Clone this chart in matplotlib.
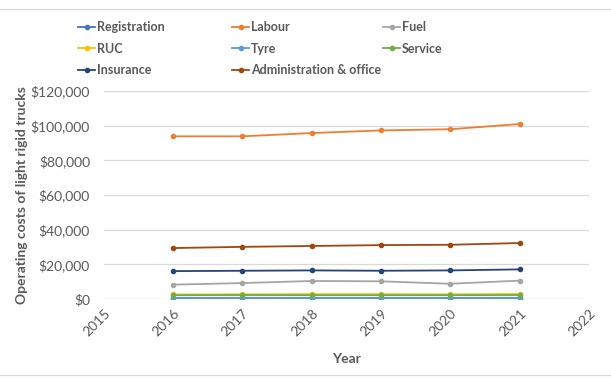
import matplotlib.pyplot as plt
from matplotlib.lines import Line2D
from matplotlib.ticker import FuncFormatter

#%% --- Data ---
years = [2016, 2017, 2018, 2019, 2020, 2021]
series_names = ["Registration", "Labour", "Fuel", "RUC", "Tyre", "Service",
                "Insurance", "Administration & office"]
registration = [300, 300, 300, 300, 300, 300]
labour = [93900, 93900, 95800, 97300, 98000, 101000]
fuel = [8300, 9200, 10400, 10200, 8800, 10600]
ruc = [2600, 2700, 2800, 2800, 2700, 2900]
tyre = [500, 500, 500, 500, 500, 500]
service = [2200, 2300, 2200, 2200, 2200, 2300]
insurance = [16100, 16300, 16500, 16300, 16500, 17100]
admin = [29400, 30100, 30600, 31100, 31300, 32300]
all_values = [registration, labour, fuel, ruc, tyre, service, insurance, admin]

colors = ["#4472C4", "#ED7D31", "#A5A5A5", "#FFC000",
          "#5B9BD5", "#70AD47", "#264478", "#9E480E"]
text_grey = "#595959"

plt.rcParams["font.family"] = ["Lato", "DejaVu Sans"]

#%% --- Figure ---
fig = plt.figure(figsize=(6.11, 3.78), dpi=100)
ax = fig.add_axes([0.170, 0.209, 0.794, 0.550])

handles = []
for name, vals, c in zip(series_names, all_values, colors):
    h, = ax.plot(years, vals, color=c, lw=1.3, marker="o", markersize=3.0,
                 label=name)
    handles.append(h)

# --- axes ---
ax.set_xlim(2015, 2022)
ax.set_ylim(0, 120000)
ax.set_xticks(range(2015, 2023))
ax.set_yticks(range(0, 120001, 20000))
ax.yaxis.set_major_formatter(FuncFormatter(lambda v, p: "${:,.0f}".format(v)))
ax.grid(axis="y", color="#D9D9D9", lw=0.9)
ax.set_axisbelow(True)
for s in ax.spines.values():
    s.set_visible(False)
ax.tick_params(axis="both", length=0, colors=text_grey, labelsize=10)
ax.tick_params(axis="y", pad=10)
ax.tick_params(axis="x", pad=6)
for lbl in ax.get_xticklabels():
    lbl.set_rotation(45)
    lbl.set_ha("right")
    lbl.set_rotation_mode("anchor")

ax.set_xlabel("Year", fontsize=10, fontweight="bold", color=text_grey, labelpad=10)
ax.set_ylabel("Operating costs of light rigid trucks", fontsize=10,
              fontweight="bold", color=text_grey, labelpad=2)

# --- legend: three fixed-position columns ---
col_x = [0.128, 0.380, 0.627]
for k, x0 in enumerate(col_x):
    idx = [k, k + 3, k + 6] if k < 2 else [k, k + 3]
    leg = fig.legend([handles[i] for i in idx], [series_names[i] for i in idx],
                     loc="upper left", bbox_to_anchor=(x0, 0.944),
                     frameon=False, fontsize=9, handlelength=1.36,
                     handletextpad=0.15, labelspacing=0.75,
                     borderpad=0, borderaxespad=0)
    for t in leg.get_texts():
        t.set_color(text_grey)
        t.set_fontweight("bold")

# --- chart area border lines ---
fig.add_artist(Line2D([0, 1], [0.976, 0.976], color="#D9D9D9", lw=0.9))
fig.add_artist(Line2D([0, 1], [0.008, 0.008], color="#D9D9D9", lw=0.9))

fig.savefig("out.png", dpi=100)
